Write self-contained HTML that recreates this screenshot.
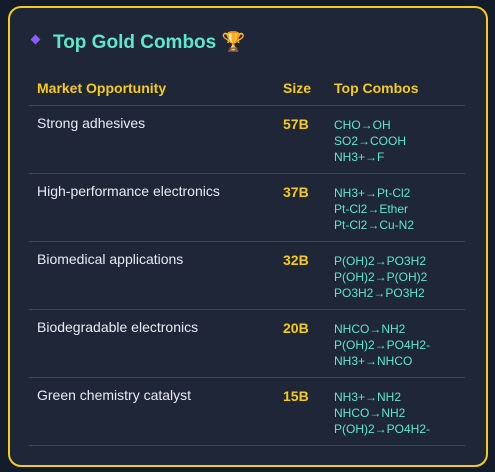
<!DOCTYPE html>
<html><head><meta charset="utf-8"><style>
*{margin:0;padding:0;box-sizing:border-box}
body{width:495px;height:472px;background:#141b2b;font-family:"Liberation Sans","DejaVu Sans",sans-serif;position:relative;overflow:hidden}
.card{position:absolute;left:8px;top:6px;width:480px;height:461px;background:#1e2638;border:2px solid #f2cc1c;border-radius:13px}
.title{position:absolute;left:22px;top:22px;font-size:19px;font-weight:bold;color:#5ee8c9;white-space:nowrap}
.dia{display:inline-block;width:7px;height:7px;background:#8b5cf6;transform:rotate(45deg);margin-right:14px;vertical-align:middle;position:relative;top:-3px}
table{position:absolute;left:19px;top:68px;width:436px;border-collapse:collapse}
th{color:#f5cb1c;font-size:14px;font-weight:bold;text-align:left;height:29px;vertical-align:top;padding:4px 0 0 8px;border-bottom:1px solid #3e4a3e}
td{height:68px;vertical-align:top;padding:9px 0 0 8px;border-bottom:1px solid #3e4a3e;color:#e8ecf2;font-size:14px}
td.s{color:#f5cb1c;font-weight:bold;padding-top:10px}
td.c{color:#5ee8c9;font-size:12px;line-height:16px;padding-top:11px}
</style></head><body>
<div class="card">
<div class="title"><span class="dia"></span>Top Gold Combos 🏆</div>
<table>
<colgroup><col style="width:246px"><col style="width:51px"><col></colgroup>
<tr><th>Market Opportunity</th><th>Size</th><th>Top Combos</th></tr>
<tr><td>Strong adhesives</td><td class="s">57B</td><td class="c">CHO→OH<br>SO2→COOH<br>NH3+→F</td></tr>
<tr><td>High-performance electronics</td><td class="s">37B</td><td class="c">NH3+→Pt-Cl2<br>Pt-Cl2→Ether<br>Pt-Cl2→Cu-N2</td></tr>
<tr><td>Biomedical applications</td><td class="s">32B</td><td class="c">P(OH)2→PO3H2<br>P(OH)2→P(OH)2<br>PO3H2→PO3H2</td></tr>
<tr><td>Biodegradable electronics</td><td class="s">20B</td><td class="c">NHCO→NH2<br>P(OH)2→PO4H2-<br>NH3+→NHCO</td></tr>
<tr><td>Green chemistry catalyst</td><td class="s">15B</td><td class="c">NH3+→NH2<br>NHCO→NH2<br>P(OH)2→PO4H2-</td></tr>
</table>
</div>
</body></html>
